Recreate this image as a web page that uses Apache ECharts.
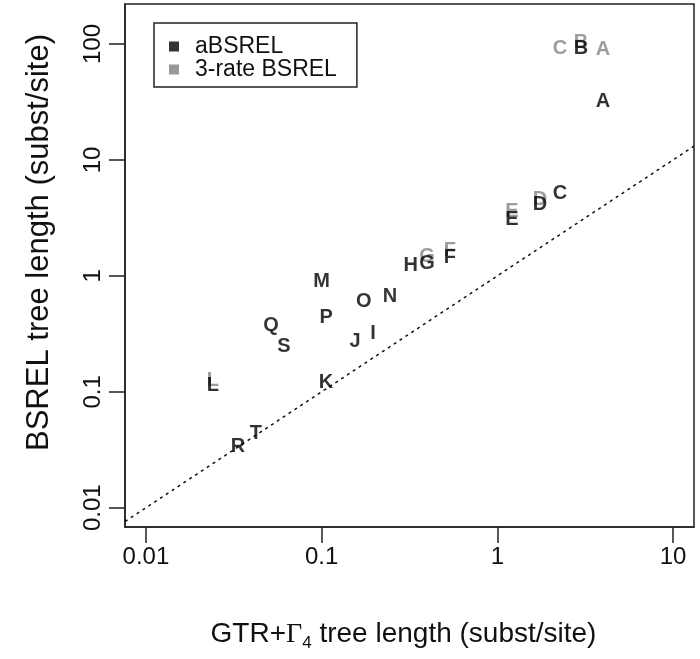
<!DOCTYPE html>
<html>
<head>
<meta charset="utf-8">
<script src="https://cdn.jsdelivr.net/npm/echarts@6/dist/echarts.min.js"></script>
<style>html,body{margin:0;padding:0;background:#fff}#c{width:700px;height:659px}</style>
</head>
<body>
<div id="c"></div>
<script>
// ---- data ----
const letters = ['A','B','C','D','E','F','G','H','I','J','K','L','M','N','O','P','Q','R','S','T'];
const gtrLength = [3.99, 2.99, 2.27, 1.75, 1.21, 0.537, 0.398, 0.322, 0.196, 0.155, 0.106, 0.024, 0.100, 0.245, 0.174, 0.106, 0.0515, 0.0334, 0.061, 0.0423];
const absrelLength = [32.2, 92, 5.18, 4.16, 3.09, 1.45, 1.29, 1.24, 0.321, 0.274, 0.121, 0.114, 0.90, 0.67, 0.606, 0.44, 0.376, 0.034, 0.248, 0.044];
const rate3Letters = ['A','B','C','D','E','F','G','L'];
const rate3Length = [90.5, 104, 92, 4.6, 3.62, 1.67, 1.48, 0.126];
const xTicks = [0.01, 0.1, 1, 10];
const yTicks = [0.01, 0.1, 1, 10, 100];
const xRange = [0.0076, 13.17];
const yRange = [0.00682, 221.5];
const refLine = [0.0076, 13.17];

const absrelData = letters.map((l, i) => [gtrLength[i], absrelLength[i], l]);
const rate3Data = rate3Letters.map((l, i) => [gtrLength[letters.indexOf(l)], rate3Length[i], l]);
const lineData = refLine.map(v => [v, v]);

const FONT = '"Liberation Sans", Arial, Helvetica, sans-serif';
const chart = echarts.init(document.getElementById('c'), null, {renderer: 'canvas'});
const letterLabel = (color) => ({
  show: true, position: 'inside', formatter: p => p.value[2],
  fontFamily: FONT, fontSize: 20, fontWeight: 'bold', color: color
});
chart.setOption({
  animation: false,
  backgroundColor: '#fff',
  grid: {left: 125, right: 6, top: 4, bottom: 132, show: true, borderColor: '#222', borderWidth: 1.5, backgroundColor: 'transparent'},
  xAxis: {
    type: 'log', min: xRange[0], max: xRange[1],
    axisLine: {show: true, onZero: false, lineStyle: {color: '#222', width: 1.5}},
    splitLine: {show: false},
    minorTick: {show: false},
    axisTick: {show: true, inside: false, length: 16, customValues: xTicks, lineStyle: {color: '#222', width: 1.5}},
    axisLabel: {customValues: xTicks, margin: 18, fontFamily: FONT, fontSize: 24, color: '#111', formatter: v => String(v)},
    name: 'GTR+{g|Γ}{sub|4} tree length (subst/site)',
    nameLocation: 'middle', nameGap: 90,
    nameTextStyle: {fontFamily: FONT, fontSize: 28, color: '#111', padding: [0, 12, 0, 0],
      rich: {g: {fontFamily: '"Liberation Serif", "DejaVu Serif", serif', fontSize: 28, color: '#111'},
             sub: {fontFamily: FONT, fontSize: 17, color: '#111', padding: [18, 0, 0, 0]}}}
  },
  yAxis: {
    type: 'log', min: yRange[0], max: yRange[1],
    axisLine: {show: true, onZero: false, lineStyle: {color: '#222', width: 1.5}},
    splitLine: {show: false},
    minorTick: {show: false},
    axisTick: {show: true, inside: false, length: 16, customValues: yTicks, lineStyle: {color: '#222', width: 1.5}},
    axisLabel: {customValues: yTicks, rotate: 90, margin: 20, fontFamily: FONT, fontSize: 24, color: '#111', formatter: v => String(v)},
    name: 'BSREL tree length (subst/site)',
    nameLocation: 'middle', nameGap: 70,
    nameTextStyle: {fontFamily: FONT, fontSize: 31, color: '#111', padding: [0, 0, 0, 46]}
  },
  legend: {
    left: 154, top: 23, orient: 'vertical',
    borderColor: '#222', borderWidth: 1.5, borderRadius: 0,
    padding: [12, 20, 6, 15], itemGap: 0,
    itemWidth: 10, itemHeight: 10,
    textStyle: {fontFamily: FONT, fontSize: 23, color: '#111', lineHeight: 23, padding: [0, 0, 0, 11]},
    data: [
      {name: 'aBSREL', icon: 'rect', itemStyle: {color: '#000'}},
      {name: '3-rate BSREL', icon: 'rect', itemStyle: {color: '#808080'}}
    ]
  },
  series: [
    {type: 'line', data: lineData, symbol: 'none', silent: true,
     lineStyle: {color: '#111', width: 1.5, type: [3, 4]}, z: 1},
    {name: '3-rate BSREL', type: 'scatter', data: rate3Data, symbolSize: 0,
     itemStyle: {color: '#808080'}, label: letterLabel('#858585'), z: 2},
    {name: 'aBSREL', type: 'scatter', data: absrelData, symbolSize: 0,
     itemStyle: {color: '#000'}, label: letterLabel('#000'), z: 3}
  ]
});
</script>
</body>
</html>
